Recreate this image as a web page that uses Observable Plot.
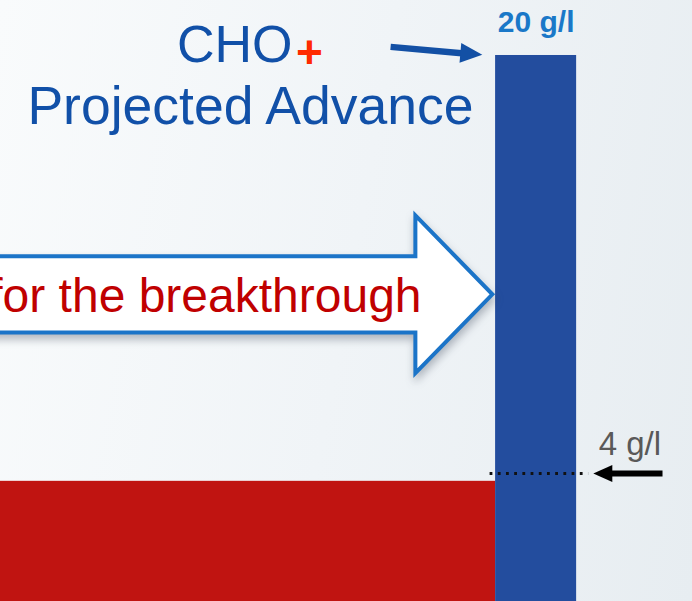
<!DOCTYPE html>
<html>
<head>
<meta charset="utf-8">
<script src="https://cdn.jsdelivr.net/npm/d3@7"></script>
<script src="https://cdn.jsdelivr.net/npm/@observablehq/plot@0.6"></script>
<style>
  html, body { margin: 0; padding: 0; overflow: hidden; }
  body {
    width: 692px; height: 601px;
    background: linear-gradient(100deg, #f9fbfc 0%, #f0f4f7 50%, #e7edf1 100%);
    font-family: "Liberation Sans", Arial, sans-serif;
  }
  #chart svg { display: block; }
</style>
</head>
<body>
<div id="chart"></div>
<script>
// Product titer, grams per litre
const categories = ["Current CHO titer", "CHO+ projected advance"];
const titers = [3.7, 20];
const barColors = ["#c01411", "#234d9e"];
const referenceTiter = 4;          // g/l benchmark flagged on the right
const bannerText = "for the breakthrough";

const bars = categories.map((category, i) => ({category, titer: titers[i], color: barColors[i]}));

// Layout: horizontal axis measured in bar widths, projected bar at [0, 1]
const xDomain = [-6.11, 2.43];
const yDomain = [-0.9, 22.105];
const barSpan = {
  "Current CHO titer": [-7, 0],
  "CHO+ projected advance": [0, 1]
};
const spanMid = (d) => (barSpan[d.category][0] + barSpan[d.category][1]) / 2;

// Filled arrowhead whose tip sits on the anchor point, pointing at angleDeg
function arrowhead(angleDeg) {
  const a = angleDeg * Math.PI / 180, c = Math.cos(a), s = Math.sin(a);
  return {
    draw(context, size) {
      const r = Math.sqrt(size / Math.PI);
      const L = 2 * r, w = 0.9 * r;
      const pts = [[0, 0], [-L, -w], [-L, w]].map(([x, y]) => [x * c - y * s, x * s + y * c]);
      context.moveTo(pts[0][0], pts[0][1]);
      context.lineTo(pts[1][0], pts[1][1]);
      context.lineTo(pts[2][0], pts[2][1]);
      context.closePath();
    }
  };
}

// Block arrow carrying the banner text
const banner = {x0: -6.5, neck: -0.99, tip: -0.04, y: 10.86, body: 1.46, head: 3.02};
const bannerOutline = [
  [banner.x0, banner.y + banner.body],
  [banner.neck, banner.y + banner.body],
  [banner.neck, banner.y + banner.head],
  [banner.tip, banner.y],
  [banner.neck, banner.y - banner.head],
  [banner.neck, banner.y - banner.body],
  [banner.x0, banner.y - banner.body],
  [banner.x0, banner.y + banner.body]
];

// Pointer from the CHO+ caption to the top of the projected bar
const pointerShaft = [[-1.296, 20.33], [-0.35, 20.07]];
const pointerTip = {x: -0.164, y: 20.03};

// Pointer to the benchmark line
const benchShaft = [[1.40, referenceTiter], [2.06, referenceTiter]];
const benchTip = {x: 1.206, y: referenceTiter};

const font = "Liberation Sans, Arial, sans-serif";

const chart = Plot.plot({
  width: 692,
  height: 601,
  margin: 0,
  x: {domain: xDomain, axis: null},
  y: {domain: yDomain, axis: null},
  style: {background: "transparent", fontFamily: font, overflow: "hidden"},
  marks: [
    Plot.rectY(bars, {
      x1: (d) => barSpan[d.category][0],
      x2: (d) => barSpan[d.category][1],
      y1: yDomain[0],
      y2: "titer",
      fill: "color"
    }),
    Plot.ruleY([referenceTiter], {
      x1: -0.068, x2: 1.148,
      stroke: "#111", strokeWidth: 3, strokeDasharray: "2.8,5.4"
    }),
    Plot.line(benchShaft, {
      x: (d) => d[0], y: (d) => d[1],
      stroke: "#000", strokeWidth: 6, strokeLinecap: "butt"
    }),
    Plot.dot([benchTip], {
      x: "x", y: "y", r: 9.5, symbol: arrowhead(180), fill: "#000", stroke: "none"
    }),
    Plot.text([referenceTiter], {
      x: 1.657, y: (d) => d, text: (d) => `${d} g/l`,
      dy: -18, lineAnchor: "bottom", fontSize: 33, fill: "#595959", fontFamily: font
    }),
    Plot.text([bars[1]], {
      x: spanMid, y: "titer", text: (d) => `${d.titer} g/l`,
      dy: -23.5, lineAnchor: "bottom", fontSize: 30, fontWeight: "bold",
      fill: "#1a78c8", fontFamily: font
    }),
    Plot.line(bannerOutline, {
      x: (d) => d[0], y: (d) => d[1],
      fill: "white", stroke: "#1b74c8", strokeWidth: 4,
      strokeLinejoin: "miter", strokeMiterlimit: 10, strokeLinecap: "butt",
      imageFilter: "drop-shadow(1px 5px 4px rgba(50,60,80,0.35))"
    }),
    Plot.text([bannerText], {
      x: -0.914, y: 10.17, text: (d) => d,
      textAnchor: "end", lineAnchor: "bottom", fontSize: 48, fill: "#c00000", fontFamily: font
    }),
    Plot.text(["CHO"], {
      x: -2.506, y: 19.77, text: (d) => d,
      textAnchor: "end", lineAnchor: "bottom", fontSize: 52, fill: "#1150a8", fontFamily: font
    }),
    Plot.text(["+"], {
      x: -2.296, y: 19.52, text: (d) => d,
      textAnchor: "middle", lineAnchor: "bottom", fontSize: 46, fontWeight: "bold",
      fill: "#ff2a00", fontFamily: font
    }),
    Plot.text(["Projected Advance"], {
      x: -3.025, y: 17.36, text: (d) => d,
      textAnchor: "middle", lineAnchor: "bottom", fontSize: 53.5, fill: "#1150a8", fontFamily: font
    }),
    Plot.line(pointerShaft, {
      x: (d) => d[0], y: (d) => d[1],
      stroke: "#1350a5", strokeWidth: 6.5, strokeLinecap: "butt"
    }),
    Plot.dot([pointerTip], {
      x: "x", y: "y", r: 11, symbol: arrowhead(5), fill: "#1350a5", stroke: "none"
    })
  ]
});

document.getElementById("chart").append(chart);
</script>
</body>
</html>
